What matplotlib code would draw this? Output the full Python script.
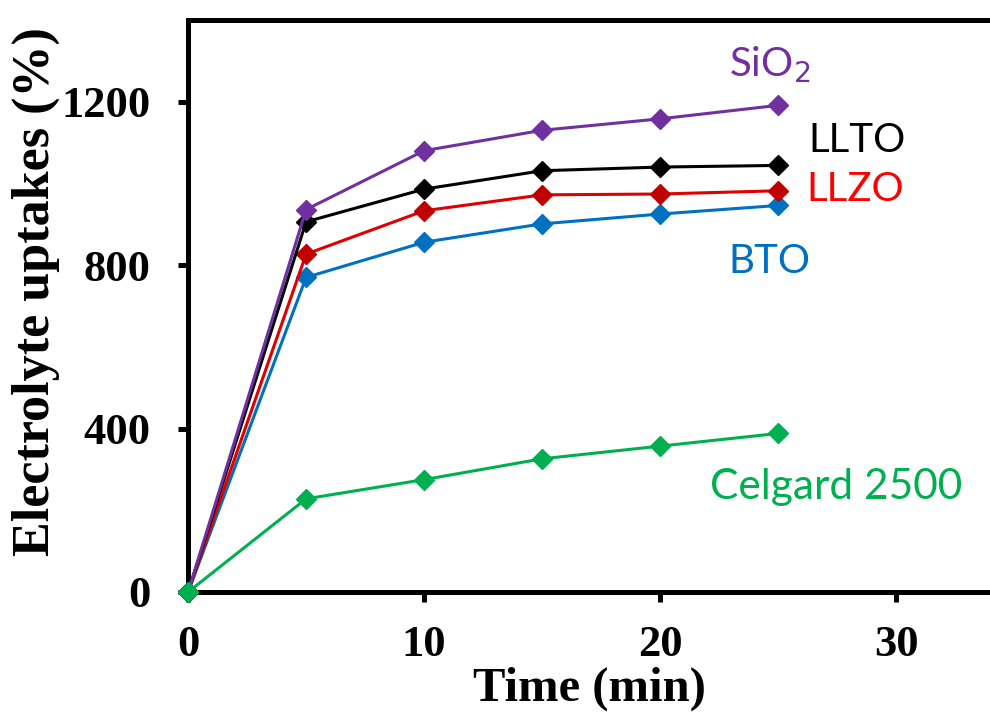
import matplotlib.pyplot as plt

# Aufnahme von Elektrolyt ueber die Zeit
time_min = [0, 5, 10, 15, 20, 25]
sio2 = [0, 936, 1080, 1130, 1158, 1191]
llto = [0, 906, 986, 1031, 1040, 1044]
llzo = [0, 827, 933, 972, 974, 982]
bto = [0, 770, 856, 901, 925, 946]
celgard = [0, 228, 275, 326, 357, 388]

x_ticks = [0, 10, 20, 30]
y_ticks = [0, 400, 800, 1200]

fig = plt.figure(figsize=(9.9, 7.18), dpi=100)
ax = fig.add_axes([0.19, 0.1755, 0.81, 0.7967])

serif = ["Liberation Serif", "DejaVu Serif"]
sans = ["Lato", "DejaVu Sans"]

series = [
    (bto, "#0070C0", "#0070C0"),
    (llzo, "#E00000", "#C00000"),
    (llto, "#000000", "#000000"),
    (sio2, "#7030A0", "#7030A0"),
    (celgard, "#00B050", "#00B050"),
]
for vals, line_col, mark_col in series:
    ax.plot(time_min, vals, color=line_col, lw=2.2, marker="D", ms=10.5,
            mfc=mark_col, mec=mark_col, clip_on=False, zorder=3)

ax.set_xlim(0, 33.98)
ax.set_ylim(0, 1400)
ax.set_xticks(x_ticks)
ax.set_yticks(y_ticks)

for side in ["left", "top", "bottom"]:
    ax.spines[side].set_linewidth(3.6)
ax.spines["right"].set_visible(False)
ax.tick_params(axis="y", direction="out", length=7, width=3.6, pad=20)
ax.tick_params(axis="x", direction="out", length=7, width=3.6, pad=17)

for lab in ax.get_xticklabels() + ax.get_yticklabels():
    lab.set_fontfamily(serif)
    lab.set_fontweight("bold")
    lab.set_fontsize(32)

ax.set_xlabel("Time (min)", fontsize=35, fontweight="bold", family=serif, labelpad=1)
ax.set_ylabel("Electrolyte uptakes (%)", fontsize=37.5, fontweight="bold", family=serif)
# Achsentitel links fest platzieren, damit er nicht in die Zahlen laeuft
ax.yaxis.set_label_coords(-0.16, 0.525)

# Beschriftung der Kurven
ax.text(22.9, 1290, "SiO$_2$", color="#7030A0", fontsize=29, family=sans, ha="left", va="center")
ax.text(26.3, 1105, "LLTO", color="#000000", fontsize=29, family=sans, ha="left", va="center")
ax.text(26.2, 985, "LLZO", color="#FF0000", fontsize=29, family=sans, ha="left", va="center")
ax.text(22.9, 810, "BTO", color="#0070C0", fontsize=29, family=sans, ha="left", va="center")
ax.text(22.1, 258, "Celgard 2500", color="#00B050", fontsize=30.5, family=sans, ha="left", va="center")

fig.savefig("out.png", dpi=100)
